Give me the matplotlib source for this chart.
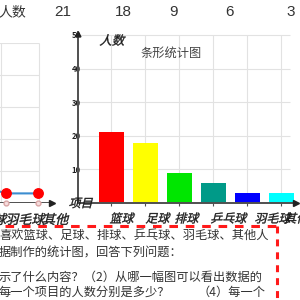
import matplotlib
matplotlib.use("Agg")
import matplotlib.pyplot as plt
from matplotlib.textpath import TextPath
from matplotlib.patches import PathPatch
from matplotlib.transforms import Affine2D
from matplotlib.font_manager import FontProperties

plt.rcParams['font.family'] = ['Noto Sans CJK SC', 'DejaVu Sans']
plt.rcParams['lines.scale_dashes'] = False

# data
categories = ['篮球', '足球', '排球', '乒乓球', '羽毛球', '其他']
counts = [21, 18, 9, 6, 3, 3]
bar_colors = ['#ff0000', '#ffff00', '#00e600', '#009a88', '#0000ff', '#00ffff']
y_ticks = [10, 20, 30, 40, 50]
text_lines = [
    '喜欢篮球、足球、排球、乒乓球、羽毛球、其他人',
    '据制作的统计图，回答下列问题：',
    '示了什么内容？（2）从哪一幅图可以看出数据的',
    '每一个项目的人数分别是多少？',
]

fig = plt.figure(figsize=(3, 3), dpi=100)
fig.patch.set_facecolor('white')

# bar chart
ax = fig.add_axes([78 / 300, 97 / 300, 218 / 300, 171.4 / 300])
ax.set_xlim(-0.985, 5.43)
ax.set_ylim(0, 51)
ax.hlines(y_ticks, -0.985, 5.25, color='#e2e2e2', lw=0.8, zorder=0)
ax.vlines(range(len(categories)), 0, 50, color='#e2e2e2', lw=0.8, zorder=0)
ax.bar(range(len(categories)), counts, width=0.74, color=bar_colors,
       edgecolor='none', zorder=2)
for side in ['top', 'right']:
    ax.spines[side].set_visible(False)
for side in ['left', 'bottom']:
    ax.spines[side].set_color('#505050')
    ax.spines[side].set_linewidth(1.4)
ax.set_xticks(range(len(categories)), labels=[])
ax.tick_params(axis='x', length=2, width=0.8, color='#505050')
ax.set_yticks(y_ticks, labels=[str(v) for v in y_ticks])
ax.tick_params(axis='y', length=0, pad=-2, labelsize=5.5, labelcolor='#222222')
for lab in ax.get_yticklabels():
    lab.set_fontweight('bold')
    lab.set_zorder(5)
ax.plot(1, 0, '>', color='#222222', ms=5, transform=ax.transAxes, clip_on=False, zorder=4)
ax.plot(0, 0.985, '^', color='#222222', ms=3.5, transform=ax.transAxes, clip_on=False, zorder=4)
ax.patch.set_visible(False)

# partial line chart on the left
ax2 = fig.add_axes([0, 97 / 300, 52 / 300, 160 / 300])
ax2.set_xlim(3.8125, 5.4375)
ax2.set_ylim(0, 50)
ax2.hlines(y_ticks, 3.5, 5.03, color='#e2e2e2', lw=0.8, zorder=0)
ax2.vlines([3.84, 5.03], 0, 50, color='#e2e2e2', lw=0.8, zorder=0)
ax2.plot(range(len(categories)), counts, color='#3c8dd0', lw=1.5, zorder=2)
ax2.plot(range(len(categories)), counts, 'o', color='#ff0000', ms=6.8, zorder=3)
ax2.plot([4, 5], [0, 0], 'o', mfc='#f6dcdc', mec='#d9a5a5', ms=3.5, zorder=4, clip_on=False)
ax2.axhline(0, color='#505050', lw=1.4, zorder=3)
ax2.plot(1, 0, '>', color='#222222', ms=5, transform=ax2.transAxes, clip_on=False, zorder=4)
ax2.axis('off')

# overlay for texts and the dashed box, pixel coords (y down)
ov = fig.add_axes([0, 0, 1, 1])
ov.set_autoscale_on(False)
ov.set_xlim(0, 300)
ov.set_ylim(300, 0)
ov.axis('off')


def slanted(x, yc, s, size, ha='left', color='#1a1a1a'):
    tp = TextPath((0, 0), s, size=size, prop=FontProperties(family='Noto Sans CJK SC'))
    ext = tp.get_extents()
    dx = {'left': -ext.x0, 'center': -(ext.x0 + ext.x1) / 2, 'right': -ext.x1}[ha]
    dy = -(ext.y0 + ext.y1) / 2
    tr = Affine2D().translate(dx, dy).skew_deg(14, 0).scale(1, -1).translate(x, yc) + ov.transData
    ov.add_patch(PathPatch(tp, transform=tr, fc=color, ec=color, lw=0.25))


# top table row
col_x = [63, 123, 173, 229, 291]
ov.text(-2, 12.5, '人数', fontsize=10, color='#333333', va='center', ha='left')
for cx, v in zip(col_x, counts):
    ov.text(cx, 12.5, str(v), fontsize=11, color='#333333', va='center', ha='center',
            family=['Liberation Sans', 'DejaVu Sans'])

# bar chart labels
ov.text(171, 53, '条形统计图', fontsize=8.8, color='#444444', va='center', ha='center')
slanted(101, 40, '人数', 12.5)
slanted(70, 203, '项目', 12)
right_label_x = [111, 147, 176, 212, 256, 286]
for lx, name in zip(right_label_x, categories):
    slanted(lx, 218, name, 12)

# left chart labels
left_label_x = [-31, 7, 44]
for lx, name in zip(left_label_x, categories[3:]):
    slanted(lx, 219, name, 13)

# red dashed box
ov.plot([5, 277], [226, 226], color='#ff1a1a', lw=2.2, dashes=(6.2, 5.6), solid_capstyle='butt')
ov.plot([277, 277], [226, 302], color='#ff1a1a', lw=2.2, dashes=(5, 4.3), solid_capstyle='butt')

# body text
line_y = [235, 253, 277, 292]
for yy, line in zip(line_y, text_lines):
    ov.text(-1, yy, line, fontsize=8.8, color='#333333', va='center', ha='left')
ov.text(266, 292, '（4）每一个', fontsize=8.8, color='#333333', va='center', ha='right')

fig.savefig('out.png', dpi=100)
